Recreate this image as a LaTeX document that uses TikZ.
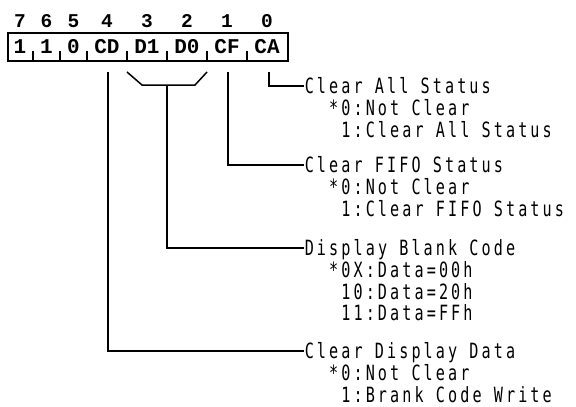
\documentclass[tikz,border=0pt]{standalone}
\usepackage{fontspec}
\newfontfamily\descfont{DejaVu Sans Mono}[FakeStretch=0.72,LetterSpace=14.8]
\newfontfamily\regfont{Liberation Mono}
\begin{document}
\begin{tikzpicture}[x=1pt,y=-1pt,line width=1.5pt,
  desc/.style={font=\descfont\fontsize{21}{21}\selectfont,inner sep=0pt,text height=15.3pt,text depth=0pt,anchor=west},
  cell/.style={font=\regfont\bfseries\fontsize{21}{21}\selectfont,inner sep=0pt},
  bitno/.style={font=\regfont\bfseries\fontsize{19.5}{19.5}\selectfont,inner sep=0pt},
  regbox/.style={draw,line width=1.6pt,minimum width=280pt,minimum height=28pt,inner sep=0pt,anchor=north west}]
\useasboundingbox (0,0) rectangle (576,407);
% register
\node[regbox] (reg) at (7,32) {};
\foreach \x in {33,60,87,127,167,207,247} \draw[line width=1.2pt] (\x,60) -- (\x,51);
\foreach \n/\x/\t in {c7/20/1,c6/46.5/1,c5/73.5/0,c4/107/CD,c3/147/D1,c2/187/D0,c1/227/CF,c0/267/CA}
  \node[cell] (\n) at (\x,46.5) {\t};
\foreach \n/\x/\t in {b7/20/7,b6/46.5/6,b5/73.5/5,b4/107/4,b3/147/3,b2/187/2,b1/227/1,b0/267/0}
  \node[bitno] (\n) at (\x,21) {\t};
% descriptions
\node[desc] (caT) at (304,86) {Clear All Status};
\node[desc] (ca1) at (328.4,107.7) {*0:Not Clear};
\node[desc] (ca2) at (340.6,129.4) {1:Clear All Status};
\node[desc] (cfT) at (304,165) {Clear FIFO Status};
\node[desc] (cf1) at (328.4,186.7) {*0:Not Clear};
\node[desc] (cf2) at (340.6,208.4) {1:Clear FIFO Status};
\node[desc] (dT) at (304,248) {Display Blank Code};
\node[desc] (d1) at (328.4,269.7) {*0X:Data=00h};
\node[desc] (d2) at (340.6,291.4) {10:Data=20h};
\node[desc] (d3) at (340.6,313.1) {11:Data=FFh};
\node[desc] (cdT) at (304,351) {Clear Display Data};
\node[desc] (cd1) at (328.4,372.7) {*0:Not Clear};
\node[desc] (cd2) at (340.6,394.4) {1:Brank Code Write};
% connectors
\coordinate (cdTop) at (108,72);
\coordinate (dL) at (127,72);
\coordinate (dBL) at (142,85);
\coordinate (dMid) at (167,85);
\coordinate (dBR) at (195,85);
\coordinate (dR) at (207,72);
\coordinate (cfTop) at (228,72);
\coordinate (caTop) at (269,72);
\draw (caTop) |- (caT.west);
\draw (cfTop) |- (cfT.west);
\draw (dL) -- (dBL) -- (dBR) -- (dR);
\draw (dMid) |- (dT.west);
\draw (cdTop) |- (cdT.west);
\end{tikzpicture}
\end{document}
